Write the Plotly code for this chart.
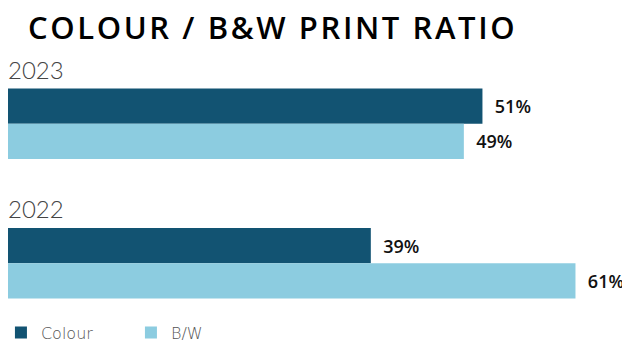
import plotly.graph_objects as go

# Share of colour vs black & white prints per year (%)
years = ["2023", "2022"]
colour_share = [51, 39]
bw_share = [49, 61]
series_names = ["Colour", "B/W"]

COLOUR_DARK = "#125372"
COLOUR_LIGHT = "#8CCCE0"
LABEL_FONT = dict(family="Open Sans", size=18, color="#111111", weight=600)

fig = go.Figure()
for name, values, col in [
    (series_names[0], colour_share, COLOUR_DARK),
    (series_names[1], bw_share, COLOUR_LIGHT),
]:
    fig.add_trace(go.Bar(
        y=years,
        x=values,
        name=name,
        orientation="h",
        marker=dict(color=col, line=dict(width=0)),
        texttemplate="\u00a0\u00a0%{x}%",
        textposition="outside",
        textfont=LABEL_FONT,
        cliponaxis=False,
        constraintext="none",
        hoverinfo="skip",
    ))

# Year headings above each group of bars (category index on the y axis)
for i, yr in enumerate(years):
    fig.add_annotation(
        x=0, xref="paper", xanchor="left", xshift=-2,
        y=i, yref="y", yanchor="bottom", yshift=38,
        text=yr, showarrow=False,
        font=dict(family="Lato", size=24, color="#444444", weight=300),
    )

fig.update_layout(
    width=622, height=343,
    margin=dict(l=8, r=0, t=53.5, b=9.5, autoexpand=False),
    paper_bgcolor="white", plot_bgcolor="white",
    barmode="group", bargap=0.493, bargroupgap=0,
    title=dict(
        text='<span style="letter-spacing:2.6px">COLOUR / B&W PRINT RATIO</span>',
        xref="container", x=28 / 622, xanchor="left",
        yref="container", y=0.95, yanchor="top",
        font=dict(family="Open Sans", size=31, color="#000000", weight=600),
    ),
    xaxis=dict(range=[0, 66], visible=False, showgrid=False, zeroline=False),
    yaxis=dict(type="category", categoryorder="array", categoryarray=years,
               range=[1.5, -0.5], autorange=False,
               visible=False, showgrid=False, zeroline=False),
    showlegend=True,
    legend=dict(
        orientation="h",
        xref="paper", x=-0.0115, xanchor="left",
        yref="container", y=0.03, yanchor="middle",
        entrywidth=85,
        font=dict(family="DejaVu Sans", size=16, color="#555555", weight=200),
        bgcolor="rgba(0,0,0,0)",
        traceorder="normal",
    ),
)

fig.write_html("out.html")
